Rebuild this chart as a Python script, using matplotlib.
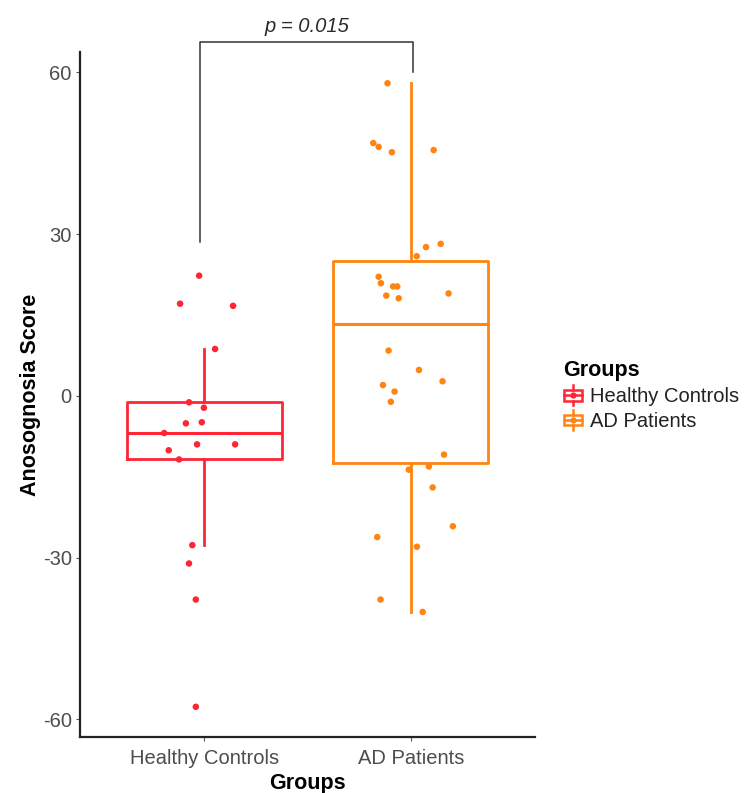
import matplotlib
matplotlib.use("Agg")
import matplotlib.pyplot as plt
import numpy as np
from matplotlib.legend_handler import HandlerBase
from matplotlib.lines import Line2D
from matplotlib.patches import Patch, Rectangle

plt.rcParams["font.family"] = ["Liberation Sans", "DejaVu Sans"]
plt.rcParams["axes.unicode_minus"] = False

# data
groups = ["Healthy Controls", "AD Patients"]
colors = ["#FF2535", "#FF8412"]

hc_scores = [22.3, 17.1, 16.7, 8.7, -1.2, -2.2, -5.1, -4.9, -6.9, -9.0, -9.0,
             -10.1, -11.8, -27.7, -31.1, -37.8, -57.7]
hc_jitter = [-0.024, -0.116, 0.140, 0.053, -0.073, -0.001, -0.088, -0.011, -0.193,
             -0.034, 0.150, -0.171, -0.121, -0.057, -0.073, -0.040, -0.040]

ad_scores = [58.0, 46.9, 46.2, 45.2, 45.6, 28.2, 27.6, 25.9, 22.1, 20.9, 20.3, 20.3,
             18.6, 18.1, 19.0, 8.4, 4.8, 2.7, 2.0, 0.8, -1.1, -10.9, -13.7, -13.1,
             -17.0, -24.2, -26.2, -28.0, -37.8, -40.1]
ad_jitter = [-0.113, -0.182, -0.156, -0.092, 0.110, 0.144, 0.073, 0.028, -0.156,
             -0.145, -0.086, -0.066, -0.119, -0.059, 0.182, -0.108, 0.039, 0.153,
             -0.135, -0.079, -0.097, 0.160, -0.010, 0.087, 0.105, 0.203, -0.163,
             0.029, -0.147, 0.057]

p_label = "p = 0.015"
bracket_x = [0.98, 2.01]
bracket_y = [28.6, 65.6, 60.0]


class BoxKeyHandler(HandlerBase):
    """Small ggplot-like boxplot glyph for the legend."""

    def create_artists(self, legend, orig_handle, xdescent, ydescent,
                       width, height, fontsize, trans):
        c = orig_handle.get_edgecolor()
        x0, y0 = -xdescent, -ydescent
        cx, cy = x0 + width / 2, y0 + height / 2
        box = Rectangle((x0 + 0.05 * width, y0 + 0.2 * height), 0.9 * width, 0.6 * height,
                        fill=False, edgecolor=c, lw=1.8, transform=trans)
        med = Line2D([x0 + 0.05 * width, x0 + 0.95 * width], [cy, cy], color=c, lw=1.8,
                     transform=trans)
        wt = Line2D([cx, cx], [y0 + 0.8 * height, y0 + 1.05 * height], color=c, lw=1.8,
                    transform=trans)
        wb = Line2D([cx, cx], [y0 - 0.05 * height, y0 + 0.2 * height], color=c, lw=1.8,
                    transform=trans)
        dot = Line2D([cx], [cy], marker="o", ms=3.5, color=c, lw=0, transform=trans)
        return [box, med, wt, wb, dot]


fig = plt.figure(figsize=(7.48, 7.93), dpi=100)
ax = fig.add_axes([80 / 748, 56 / 793, 455 / 748, 685 / 793])

data = [hc_scores, ad_scores]
jitters = [hc_jitter, ad_jitter]
for i, (vals, jit, col) in enumerate(zip(data, jitters, colors), start=1):
    ax.boxplot(vals, positions=[i], widths=0.75, whis=1.5, showfliers=False,
               showcaps=False, patch_artist=False,
               boxprops=dict(color=col, lw=2),
               medianprops=dict(color=col, lw=2.2),
               whiskerprops=dict(color=col, lw=2))
    ax.scatter(np.array(jit) + i, vals, s=22, color=col, edgecolors="none", zorder=3)

ax.set_xlim(0.4, 2.6)
ax.set_ylim(-63.3, 63.8)
ax.set_yticks([-60, -30, 0, 30, 60])
ax.set_xticks([1, 2])
ax.set_xticklabels(groups)

for side in ["top", "right"]:
    ax.spines[side].set_visible(False)
for side in ["left", "bottom"]:
    ax.spines[side].set_linewidth(1.6)
    ax.spines[side].set_color("#222222")
ax.tick_params(axis="both", length=3, width=0.8, color="#555555",
               labelsize=14.5, labelcolor="#4D4D4D", pad=3)
ax.tick_params(axis="x", pad=6)

ax.set_xlabel("Groups", fontsize=15.5, fontweight="bold", labelpad=3)
ax.set_ylabel("Anosognosia Score", fontsize=15.5, fontweight="bold", labelpad=1)

# significance bracket
ax.plot([bracket_x[0], bracket_x[0], bracket_x[1], bracket_x[1]],
        [bracket_y[0], bracket_y[1], bracket_y[1], bracket_y[2]],
        color="#333333", lw=1.1, clip_on=False)
ax.text(np.mean(bracket_x), bracket_y[1] + 1.2, p_label, ha="center", va="bottom",
        fontsize=14.5, style="italic", color="#2A2A2A", clip_on=False)

handles = [Patch(edgecolor=c, facecolor="none", label=g) for g, c in zip(groups, colors)]
leg = fig.legend(handles=handles, title="Groups", loc="upper left",
                 bbox_to_anchor=(549 / 748, 1 - 346 / 793), frameon=False,
                 fontsize=14.5, title_fontproperties={"weight": "bold", "size": 15.5},
                 handler_map={Patch: BoxKeyHandler()}, handlelength=1.0,
                 handleheight=1.0, handletextpad=0.35, labelspacing=0.25,
                 alignment="left", borderpad=0.2)
for t in leg.get_texts():
    t.set_color("#222222")

fig.savefig("out.png", dpi=100)
